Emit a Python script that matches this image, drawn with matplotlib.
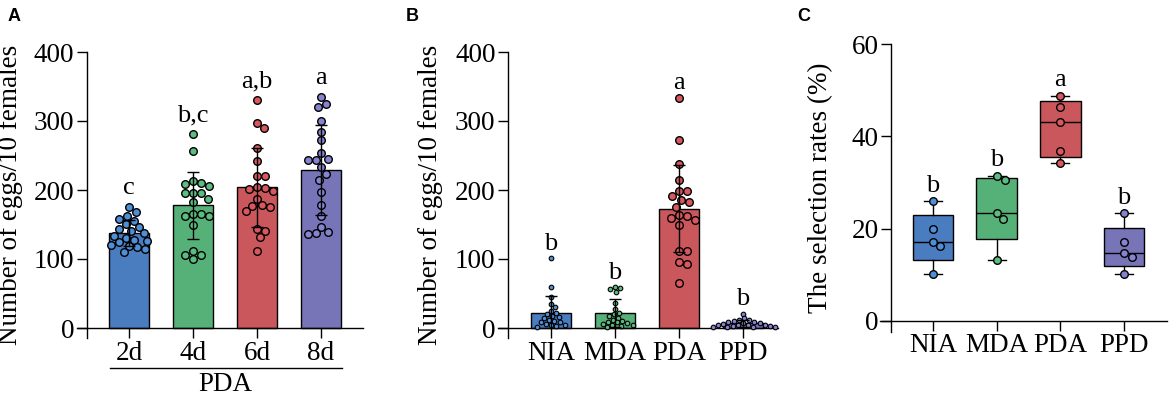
import numpy as np
import matplotlib
matplotlib.use("Agg")
import matplotlib.pyplot as plt
from matplotlib.transforms import blended_transform_factory

plt.rcParams['font.family'] = ['Liberation Serif', 'DejaVu Serif']

# ---------------- data ----------------
a_groups = ["2d", "4d", "6d", "8d"]
a_xlabel = "PDA"
a_2d = [176, 168, 162, 158, 155, 150, 146, 143, 140, 137, 134, 131, 128, 126, 124, 121, 119, 117, 114, 110]
a_4d = [281, 256, 208, 213, 206, 210, 195, 196, 187, 195, 183, 165, 165, 162, 162, 149, 112, 100, 106, 106]
a_6d = [330, 297, 290, 261, 242, 221, 220, 204, 203, 201, 199, 187, 178, 177, 175, 170, 143, 141, 132, 112]
a_8d = [335, 325, 321, 300, 284, 272, 253, 245, 244, 243, 233, 223, 215, 197, 178, 162, 146, 139, 137, 136]
a_letters = ["c", "b,c", "a,b", "a"]

b_groups = ["NIA", "MDA", "PDA", "PPD"]
b_nia = [101, 59, 45, 35, 30, 25, 22, 20, 18, 16, 14, 12, 10, 9, 8, 6, 5, 4, 3, 2]
b_mda = [59, 58, 57, 52, 36, 27, 22, 20, 18, 15, 12, 10, 9, 8, 7, 6, 5, 4, 3, 2]
b_pda = [334, 272, 237, 215, 199, 199, 191, 185, 182, 176, 164, 162, 160, 156, 149, 112, 111, 96, 93, 65]
b_ppd = [21, 14, 12, 11, 10, 9, 8, 7, 7, 6, 5, 5, 4, 4, 3, 3, 2, 2, 1, 1]
b_letters = ["b", "b", "a", "b"]

c_groups = ["NIA", "MDA", "PDA", "PPD"]
c_nia = [25.9, 20.0, 17.2, 16.2, 10.1]
c_mda = [31.4, 30.5, 23.3, 22.1, 13.3]
c_pda = [48.8, 46.3, 43.1, 36.9, 34.2]
c_ppd = [23.3, 17.2, 14.8, 13.9, 10.1]
c_letters = ["b", "b", "a", "b"]

ylabel_ab = "Number of eggs/10 females"
ylabel_c = "The selection rates (%)"

bar_colors = ["#4a7cc0", "#56b178", "#c9575c", "#7774b8"]
dot_colors = ["#4f8fd8", "#5cbd80", "#d9585f", "#8683d0"]

FIG_W, FIG_H = 1170, 395
fig = plt.figure(figsize=(FIG_W / 100, FIG_H / 100), dpi=100)

TICK_FS = 19.5
LAB_FS = 19.5
LET_FS = 19


def swarm_offsets(vals, ypx, xpx, dpx):
    vals = np.asarray(vals, dtype=float)
    order = np.argsort(-vals, kind="stable")
    placed = []
    offs = np.zeros(len(vals))
    step = dpx * 0.2
    cands = [0.0]
    for k in range(1, 80):
        cands += [k * step, -k * step]
    for i in order:
        y = vals[i] * ypx
        for c in cands:
            ok = True
            for (px, py) in placed:
                if (c - px) ** 2 + (y - py) ** 2 < (dpx * 0.95) ** 2:
                    ok = False
                    break
            if ok:
                break
        placed.append((c, y))
        offs[i] = c / xpx
    return offs


def make_axes(px_left, px_right, px_top_val, px_bottom, xlim, ylim):
    left = px_left / FIG_W
    width = (px_right - px_left) / FIG_W
    bottom = 1 - px_bottom / FIG_H
    height = (px_bottom - px_top_val) / FIG_H
    ax = fig.add_axes([left, bottom, width, height])
    ax.set_xlim(*xlim)
    ax.set_ylim(*ylim)
    return ax


def style_axes(ax, spine_x, ylo, ytop, yticks, xlabels):
    for s in ("top", "right"):
        ax.spines[s].set_visible(False)
    ax.spines["left"].set_position(("data", spine_x))
    ax.spines["left"].set_bounds(ylo, ytop)
    ax.spines["bottom"].set_position(("data", 0))
    for s in ("left", "bottom"):
        ax.spines[s].set_linewidth(1.0)
    ax.set_yticks(yticks)
    ax.set_yticklabels([str(v) for v in yticks])
    ax.set_xticks(range(len(xlabels)))
    ax.set_xticklabels(xlabels)
    ax.tick_params(axis="both", direction="out", length=7, width=1.0,
                   labelsize=TICK_FS, pad=2)
    ax.tick_params(axis="x", pad=2)
    ax.patch.set_visible(False)


def bar_panel(ax, groups, ppu_y, ppu_x, dot_d, dot_s, dot_lw, letters, let_off):
    for i, vals in enumerate(groups):
        vals = np.asarray(vals, float)
        m = vals.mean()
        sd = vals.std(ddof=1)
        ax.bar(i, m, width=0.63, color=bar_colors[i], edgecolor="black",
               linewidth=1.0, zorder=1)
        offs = swarm_offsets(vals, ppu_y, ppu_x, dot_d[i])
        ax.scatter(i + offs, vals, s=dot_s[i], facecolor=dot_colors[i],
                   edgecolor="black", linewidth=dot_lw[i], zorder=3, clip_on=False)
        lo = max(m - sd, 0)
        ax.vlines(i, lo, m + sd, color="black", lw=1.0, zorder=4)
        ax.hlines(m + sd, i - 0.1, i + 0.1, color="black", lw=1.0, zorder=4)
        if m - sd > 0:
            ax.hlines(m - sd, i - 0.1, i + 0.1, color="black", lw=1.0, zorder=4)
        ax.annotate(letters[i], xy=(i, vals.max()), xytext=(0, let_off),
                    textcoords="offset points", ha="center", va="baseline",
                    fontsize=LET_FS)


# ---------------- Panel A ----------------
ppu_x = 64.0
ppu_y_ab = 276.0 / 400
axA = make_axes(77, 363, 52, 328 + 15 * ppu_y_ab,
                ((77 - 129) / ppu_x, (363 - 129) / ppu_x), (-15, 400))
style_axes(axA, (87 - 129) / ppu_x, -15, 400, [0, 100, 200, 300, 400], a_groups)
bar_panel(axA, [a_2d, a_4d, a_6d, a_8d], ppu_y_ab, ppu_x,
          [8.2] * 4, [30] * 4, [1.0] * 4, a_letters, 9)
axA.set_ylabel(ylabel_ab, fontsize=LAB_FS)
axA.yaxis.set_label_coords(-0.19, 0.5)
trA = blended_transform_factory(axA.transData, axA.transAxes)
axA.plot([-0.30, 3.33], [-0.103, -0.103], color="black", lw=1.0,
         transform=trA, clip_on=False)
axA.text(1.5, -0.16, a_xlabel, transform=trA, ha="center", va="center",
         fontsize=TICK_FS)

# ---------------- Panel B ----------------
axB = make_axes(498, 778, 52, 328 + 15 * ppu_y_ab,
                ((498 - 551) / ppu_x, (778 - 551) / ppu_x), (-15, 400))
style_axes(axB, (508 - 551) / ppu_x, -15, 400, [0, 100, 200, 300, 400], b_groups)
bar_panel(axB, [b_nia, b_mda, b_pda, b_ppd], ppu_y_ab, ppu_x,
          [5.2, 5.2, 8.2, 5.2], [11, 11, 30, 11], [0.8, 0.8, 1.0, 0.8],
          b_letters, 6)
axB.set_ylabel(ylabel_ab, fontsize=LAB_FS)
axB.yaxis.set_label_coords(-0.196, 0.5)

# ---------------- Panel C ----------------
ppu_y_c = 277.0 / 60
ppu_xc = 63.7
c_bottom_val = -(332 - 321) / ppu_y_c
axC = make_axes(880, 1167, 44, 332,
                ((880 - 933) / ppu_xc, (1167 - 933) / ppu_xc), (c_bottom_val, 60))
style_axes(axC, (891 - 933) / ppu_xc, c_bottom_val, 60, [0, 20, 40, 60], c_groups)
stats = []
for i, vals in enumerate([c_nia, c_mda, c_pda, c_ppd]):
    v = np.asarray(vals, float)
    q1, med, q3 = np.percentile(v, [25, 50, 75], method="weibull")
    stats.append(dict(med=med, q1=q1, q3=q3, whislo=v.min(), whishi=v.max(),
                      fliers=[]))
bp = axC.bxp(stats, positions=range(4), widths=0.64, patch_artist=True,
             showfliers=False, capwidths=0.28,
             boxprops=dict(linewidth=1.0, edgecolor="black"),
             medianprops=dict(color="black", linewidth=1.0),
             whiskerprops=dict(color="black", linewidth=1.0),
             capprops=dict(color="black", linewidth=1.0))
for patch, col in zip(bp["boxes"], bar_colors):
    patch.set_facecolor(col)
    patch.set_zorder(2)
for i, vals in enumerate([c_nia, c_mda, c_pda, c_ppd]):
    v = np.asarray(vals, float)
    offs = swarm_offsets(v, ppu_y_c, ppu_xc, 8.2)
    axC.scatter(i + offs, v, s=30, facecolor=dot_colors[i], edgecolor="black",
                linewidth=1.0, zorder=4, clip_on=False)
    axC.annotate(c_letters[i], xy=(i, v.max()), xytext=(0, 7),
                 textcoords="offset points", ha="center", va="baseline",
                 fontsize=LET_FS)
axC.set_xticks(range(4))
axC.set_xticklabels(c_groups)
axC.set_ylabel(ylabel_c, fontsize=LAB_FS)
axC.yaxis.set_label_coords(-0.164, 0.5)

# ---------------- panel letters ----------------
for x, lab in [(8, "A"), (406, "B"), (797, "C")]:
    fig.text(x / FIG_W, 1 - 21 / FIG_H, lab, fontsize=13, fontweight="bold",
             family=["Liberation Sans", "DejaVu Sans"], va="baseline", ha="left")

fig.savefig("out.png", dpi=100)
